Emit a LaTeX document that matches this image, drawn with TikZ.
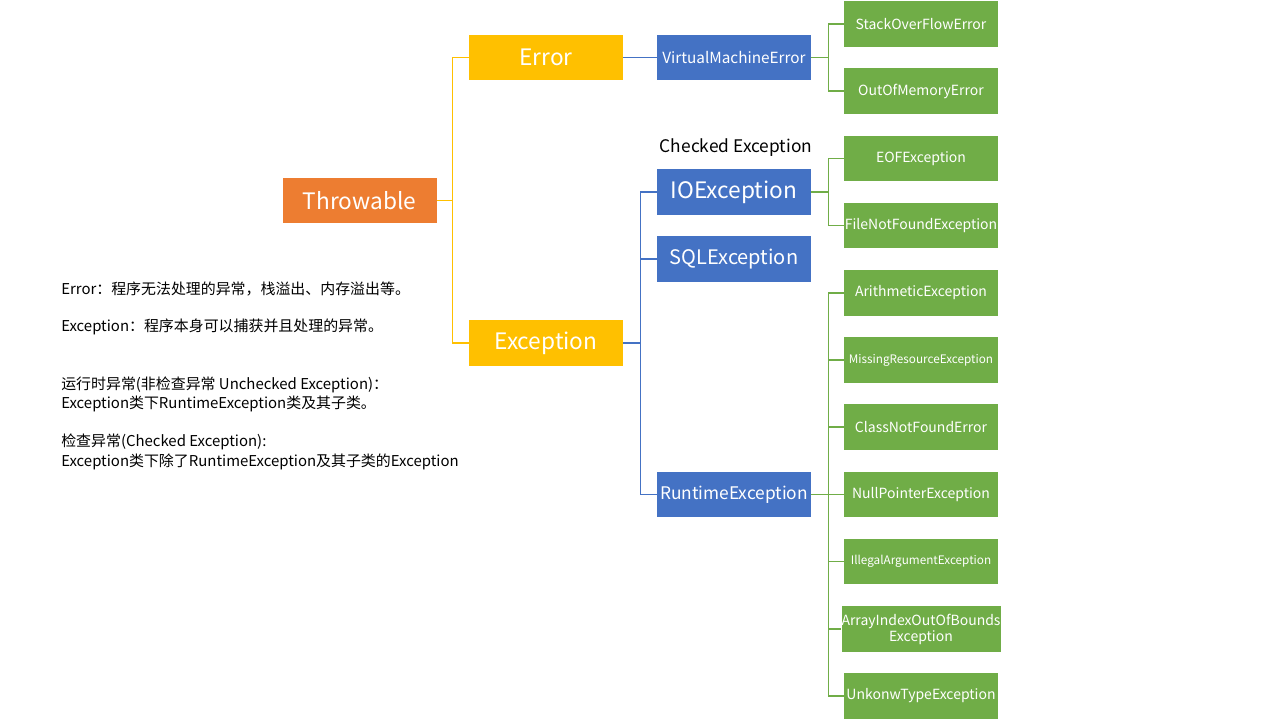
\documentclass[tikz,border=0pt]{standalone}
\usepackage{fontspec}
\setmainfont{Noto Sans CJK SC}
\definecolor{orangebox}{HTML}{ED7D31}
\definecolor{yellowbox}{HTML}{FFC000}
\definecolor{bluebox}{HTML}{4472C4}
\definecolor{greenbox}{HTML}{70AD47}
\begin{document}
\begin{tikzpicture}[x=0.75pt,y=-0.75pt,
  box/.style={minimum width=115.5pt,minimum height=34pt,inner sep=0pt,text=white,align=center},
  topbox/.style={box,fill=orangebox,font=\fontsize{17}{20}\selectfont},
  errbox/.style={box,fill=yellowbox,font=\fontsize{17}{20}\selectfont},
  clsbox/.style={box,fill=bluebox},
  leafbox/.style={box,fill=greenbox,font=\fontsize{10.5}{12}\selectfont},
  yline/.style={draw=yellowbox,line width=1pt},
  bline/.style={draw=bluebox,line width=1pt},
  gline/.style={draw=greenbox,line width=1pt},
  note/.style={anchor=west,inner sep=0pt,font=\fontsize{11.2}{13}\selectfont}]
\useasboundingbox (0,0) rectangle (1280,720);
% tree nodes
\node[topbox] (thr) at (359.5,200.5) {Throwable};
\node[errbox] (err) at (546,57.5) {Error};
\node[errbox] (exc) at (546,343) {Exception};
\node[clsbox,font=\fontsize{11.5}{13}\selectfont] (vme) at (734,57.5) {VirtualMachineError};
\node[clsbox,font=\fontsize{17}{20}\selectfont] (ioe) at (734,192) {IOException};
\node[clsbox,font=\fontsize{15}{18}\selectfont] (sql) at (734,259) {SQLException};
\node[clsbox,font=\fontsize{13}{15}\selectfont] (rte) at (734,494.5) {RuntimeException};
\node[font=\fontsize{13}{15}\selectfont] (chk) at (736,148) {Checked Exception};
\node[leafbox] (sof) at (921,24) {StackOverFlowError};
\node[leafbox] (oom) at (921,91) {OutOfMemoryError};
\node[leafbox] (eof) at (921,158.5) {EOFException};
\node[leafbox] (fnf) at (921,225.5) {FileNotFoundException};
\node[leafbox] (ari) at (921,293) {ArithmeticException};
\node[leafbox,font=\fontsize{8.8}{10}\selectfont] (mre) at (921,360) {MissingResourceException};
\node[leafbox] (cnf) at (921,427) {ClassNotFoundError};
\node[leafbox] (npe) at (921,494.5) {NullPointerException};
\node[leafbox,font=\fontsize{8.8}{10}\selectfont] (iae) at (921,561.5) {IllegalArgumentException};
\node[leafbox] (aio) at (921,629) {ArrayIndexOutOfBounds\\Exception};
\node[leafbox] (ute) at (921,696) {UnkonwTypeException};
% connectors
\draw[yline] (thr.east) -- ++(16,0) |- (err.west);
\draw[yline] (thr.east) -- ++(16,0) |- (exc.west);
\draw[bline] (err.east) -- (vme.west);
\draw[bline] (exc.east) -- ++(17,0) |- (ioe.west);
\draw[bline] (exc.east) -- ++(17,0) |- (sql.west);
\draw[bline] (exc.east) -- ++(17,0) |- (rte.west);
\draw[gline] (vme.east) -- ++(17,0) |- (sof.west);
\draw[gline] (vme.east) -- ++(17,0) |- (oom.west);
\draw[gline] (ioe.east) -- ++(17,0) |- (eof.west);
\draw[gline] (ioe.east) -- ++(17,0) |- (fnf.west);
\draw[gline] (rte.east) -- ++(17,0) |- (ari.west);
\draw[gline] (rte.east) -- ++(17,0) |- (mre.west);
\draw[gline] (rte.east) -- ++(17,0) |- (cnf.west);
\draw[gline] (rte.east) -- (npe.west);
\draw[gline] (rte.east) -- ++(17,0) |- (iae.west);
\draw[gline] (rte.east) -- ++(17,0) |- (aio.west);
\draw[gline] (rte.east) -- ++(17,0) |- (ute.west);
% notes
\node[note] (n1) at (61,289) {Error：程序无法处理的异常，栈溢出、内存溢出等。};
\node[note] (n2) at (61,327) {Exception：程序本身可以捕获并且处理的异常。};
\node[note] (n3) at (61,385) {运行时异常(非检查异常 Unchecked Exception)：};
\node[note] (n4) at (61,404) {Exception类下RuntimeException类及其子类。};
\node[note] (n5) at (61,442) {检查异常(Checked Exception):};
\node[note] (n6) at (61,462) {Exception类下除了RuntimeException及其子类的Exception};
\end{tikzpicture}
\end{document}
